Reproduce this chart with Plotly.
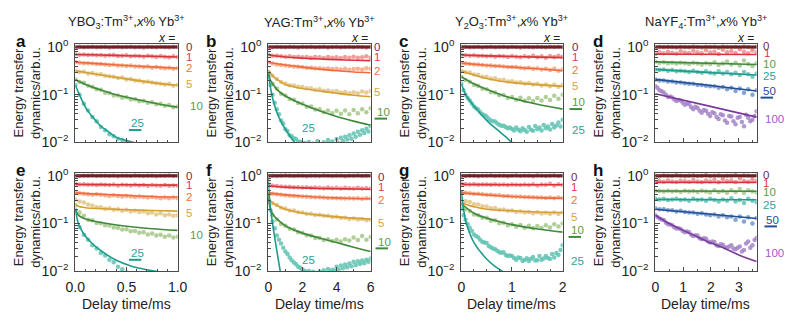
import numpy as np
import plotly.graph_objects as go

W, H = 792, 326

# ---------------------------------------------------------------
# Energy-transfer dynamics (normalised), sampled evenly in time.
# Each *_pts list is a measured trace, each *_fit pair a model curve.
# ---------------------------------------------------------------

# YBO3 (top row, fit model 1)
a_pts_0 = [1.0, 1.01, 0.99, 1.0, 1.02, 0.99, 1.0, 1.01, 0.98, 1.0, 1.01, 0.99, 1.0, 1.02, 0.99, 1.0, 0.98, 1.01, 1.0, 0.99, 1.01, 1.0, 0.99, 1.02, 1.0]
a_pts_1 = [0.71, 0.69, 0.70, 0.68, 0.69, 0.67, 0.68, 0.66, 0.67, 0.68, 0.65, 0.66, 0.67, 0.64, 0.66, 0.65, 0.63, 0.66, 0.64, 0.62, 0.65, 0.63, 0.61, 0.64, 0.62]
a_pts_2 = [0.48, 0.47, 0.46, 0.46, 0.45, 0.44, 0.44, 0.43, 0.42, 0.43, 0.41, 0.41, 0.40, 0.41, 0.39, 0.39, 0.38, 0.39, 0.37, 0.38, 0.37, 0.36, 0.37, 0.35, 0.36]
a_pts_5 = [0.32, 0.30, 0.305, 0.28, 0.285, 0.265, 0.27, 0.25, 0.245, 0.24, 0.225, 0.23, 0.21, 0.215, 0.20, 0.20, 0.185, 0.19, 0.18, 0.175, 0.17, 0.165, 0.17, 0.155, 0.16]
a_pts_10 = [0.21, 0.185, 0.178, 0.155, 0.148, 0.13, 0.128, 0.11, 0.109, 0.097, 0.097, 0.087, 0.089, 0.08, 0.081, 0.073, 0.075, 0.068, 0.07, 0.063, 0.065, 0.059, 0.061, 0.055, 0.057]
a_pts_25 = [0.16, 0.10, 0.065, 0.047, 0.034, 0.028, 0.021, 0.018, 0.0148, 0.0135, 0.012, 0.0112, 0.0104, 0.0097, 0.0092, 0.0087, 0.0082, 0.0078, 0.0074, 0.007, 0.0067, 0.0064, 0.0061, 0.0058, 0.0056]
a_fit_t = {"0": [0, 1], "1": [0, 0.25, 0.5, 0.75, 1], "2": [0, 0.25, 0.5, 0.75, 1],
           "5": [0, 0.25, 0.5, 0.75, 1], "10": [0, 0.1, 0.25, 0.4, 0.6, 0.8, 1],
           "25": [0, 0.05, 0.11, 0.18, 0.24, 0.32, 0.4, 0.5, 0.58, 0.7, 0.8]}
a_fit_v = {"0": [1.0, 1.0], "1": [0.70, 0.68, 0.66, 0.64, 0.62], "2": [0.48, 0.445, 0.41, 0.385, 0.36],
           "5": [0.32, 0.26, 0.215, 0.18, 0.158], "10": [0.21, 0.165, 0.126, 0.10, 0.08, 0.065, 0.055],
           "25": [0.16, 0.09, 0.05, 0.032, 0.023, 0.017, 0.0128, 0.011, 0.0098, 0.0085, 0.0078]}

# YAG
b_pts_0 = [1.0, 0.99, 1.01, 1.0, 0.99, 1.02, 1.0, 0.98, 1.01, 1.0, 1.02, 0.99, 1.0, 1.01, 0.98, 1.0, 1.02, 0.99, 1.0, 1.01, 0.99, 1.02, 1.0, 0.98, 1.01]
b_pts_1 = [0.70, 0.66, 0.66, 0.64, 0.63, 0.64, 0.62, 0.63, 0.61, 0.62, 0.60, 0.62, 0.61, 0.59, 0.62, 0.60, 0.61, 0.59, 0.62, 0.60, 0.63, 0.60, 0.61, 0.64, 0.60]
b_pts_2 = [0.48, 0.45, 0.43, 0.42, 0.41, 0.40, 0.39, 0.385, 0.38, 0.37, 0.37, 0.36, 0.36, 0.35, 0.355, 0.345, 0.35, 0.34, 0.35, 0.335, 0.345, 0.35, 0.34, 0.36, 0.35]
b_pts_5 = [0.30, 0.25, 0.215, 0.185, 0.172, 0.158, 0.157, 0.147, 0.146, 0.137, 0.137, 0.128, 0.131, 0.122, 0.123, 0.117, 0.12, 0.112, 0.115, 0.107, 0.113, 0.108, 0.117, 0.112, 0.12]
b_pts_10 = [0.26, 0.17, 0.135, 0.105, 0.096, 0.082, 0.079, 0.067, 0.066, 0.056, 0.057, 0.049, 0.05, 0.043, 0.047, 0.041, 0.046, 0.04, 0.047, 0.039, 0.048, 0.041, 0.05, 0.043, 0.052]
b_pts_25 = [0.25, 0.16, 0.10, 0.068, 0.05, 0.039, 0.029, 0.025, 0.019, 0.0175, 0.0142, 0.0135, 0.0122, 0.0118, 0.0105, 0.0102,
            0.0093, 0.0098, 0.0085, 0.0102, 0.0082, 0.0095, 0.0088, 0.0108, 0.0079, 0.0092, 0.0101, 0.0084, 0.0112, 0.0091,
            0.0105, 0.0088, 0.0118, 0.0096, 0.0125, 0.0108, 0.0132, 0.0115, 0.0142, 0.012, 0.0155, 0.0132, 0.0168, 0.0145,
            0.018, 0.0158, 0.0195, 0.017, 0.022]
b_fit_t = {"0": [0, 6], "1": [0, 1, 2, 3, 4, 5, 6], "2": [0, 1, 2, 3, 4, 5, 6],
           "5": [0, 0.25, 0.5, 1, 2, 3, 4, 5, 6], "10": [0, 0.1, 0.25, 0.5, 1, 2, 3, 4, 5, 6],
           "25": [0, 0.1, 0.25, 0.5, 0.75, 1, 1.25, 1.5, 1.75]}
b_fit_v = {"0": [1.0, 1.0], "1": [0.68, 0.62, 0.585, 0.56, 0.545, 0.53, 0.52],
           "2": [0.48, 0.42, 0.38, 0.345, 0.32, 0.30, 0.29],
           "5": [0.33, 0.25, 0.21, 0.165, 0.135, 0.12, 0.108, 0.098, 0.091],
           "10": [0.30, 0.21, 0.17, 0.13, 0.094, 0.063, 0.046, 0.035, 0.028, 0.023],
           "25": [0.27, 0.16, 0.085, 0.043, 0.027, 0.019, 0.0138, 0.0105, 0.008]}

# Y2O3
c_pts_0 = [1.0, 1.01, 0.99, 1.0, 1.01, 0.98, 1.0, 1.02, 0.99, 1.0, 1.01, 0.99, 1.02, 1.0, 0.98, 1.01, 1.0, 0.99, 1.02, 1.0, 0.99, 1.01, 1.0, 1.02, 0.99]
c_pts_1 = [0.69, 0.67, 0.66, 0.67, 0.65, 0.66, 0.64, 0.66, 0.63, 0.65, 0.64, 0.62, 0.65, 0.63, 0.61, 0.64, 0.62, 0.66, 0.61, 0.64, 0.60, 0.65, 0.62, 0.66, 0.63]
c_pts_2 = [0.46, 0.45, 0.44, 0.43, 0.43, 0.42, 0.41, 0.41, 0.40, 0.40, 0.39, 0.38, 0.38, 0.38, 0.37, 0.36, 0.37, 0.35, 0.36, 0.34, 0.35, 0.33, 0.35, 0.32, 0.34]
c_pts_5 = [0.32, 0.295, 0.292, 0.265, 0.262, 0.24, 0.238, 0.22, 0.222, 0.205, 0.207, 0.19, 0.193, 0.18, 0.183, 0.172, 0.176, 0.165, 0.17, 0.157, 0.164, 0.15, 0.162, 0.148, 0.16]
c_pts_10 = [0.24, 0.205, 0.188, 0.16, 0.153, 0.133, 0.131, 0.113, 0.112, 0.098, 0.099, 0.086, 0.09, 0.079, 0.087, 0.075, 0.085, 0.074, 0.086, 0.076, 0.09, 0.078, 0.095, 0.083, 0.1]
c_pts_25 = [0.17, 0.125, 0.10, 0.086, 0.076, 0.066, 0.057, 0.052, 0.049, 0.043, 0.039, 0.037, 0.035, 0.031, 0.029, 0.028,
            0.0275, 0.025, 0.0235, 0.0225, 0.0225, 0.021, 0.0198, 0.0205, 0.0192, 0.0178, 0.0205, 0.0185, 0.0172, 0.0198,
            0.0182, 0.0168, 0.021, 0.0185, 0.0176, 0.0222, 0.0189, 0.0205, 0.0178, 0.0232, 0.0198, 0.0215, 0.0188, 0.0245,
            0.0205, 0.0228, 0.0262, 0.0215, 0.030]
c_fit_t = {"0": [0, 2], "1": [0, 0.5, 1, 1.5, 2], "2": [0, 0.5, 1, 1.5, 2],
           "5": [0, 0.25, 0.5, 0.75, 1, 1.5, 2], "10": [0, 0.25, 0.5, 0.75, 1, 1.5, 2],
           "25": [0, 0.1, 0.25, 0.4, 0.5, 0.6, 0.75, 0.9, 1.0, 1.1]}
c_fit_v = {"0": [1.0, 1.0], "1": [0.68, 0.655, 0.635, 0.615, 0.60], "2": [0.46, 0.415, 0.38, 0.35, 0.32],
           "5": [0.32, 0.26, 0.22, 0.195, 0.18, 0.163, 0.15],
           "10": [0.24, 0.17, 0.13, 0.103, 0.085, 0.063, 0.05],
           "25": [0.17, 0.095, 0.058, 0.038, 0.029, 0.023, 0.017, 0.0125, 0.01, 0.0082]}

# NaYF4
d_pts_0 = [1.0, 1.02, 0.99, 1.01, 1.0, 0.98, 1.02, 1.0, 0.99, 1.03, 1.0, 0.98, 1.02, 1.0, 1.01, 0.97, 1.03, 1.0, 0.99, 1.02, 0.98, 1.03, 1.0, 0.97, 1.02]
d_pts_1 = [0.72, 0.78, 0.74, 0.80, 0.76, 0.73, 0.82, 0.77, 0.75, 0.84, 0.78, 0.74, 0.86, 0.77, 0.80, 0.72, 0.88, 0.78, 0.82, 0.75, 0.90, 0.80, 0.74, 0.85, 0.78]
d_pts_10 = [0.49, 0.47, 0.48, 0.46, 0.47, 0.45, 0.47, 0.46, 0.44, 0.47, 0.45, 0.43, 0.46, 0.44, 0.48, 0.42, 0.45, 0.50, 0.43, 0.47, 0.41, 0.52, 0.44, 0.40, 0.46]
d_pts_25 = [0.34, 0.33, 0.34, 0.32, 0.33, 0.31, 0.32, 0.31, 0.30, 0.32, 0.30, 0.29, 0.31, 0.29, 0.28, 0.31, 0.28, 0.30, 0.27, 0.29, 0.26, 0.30, 0.27, 0.24, 0.28]
d_pts_50 = [0.21, 0.20, 0.20, 0.19, 0.19, 0.18, 0.18, 0.175, 0.17, 0.17, 0.16, 0.16, 0.155, 0.15, 0.15, 0.14, 0.145, 0.13, 0.14, 0.12, 0.135, 0.11, 0.13, 0.10, 0.125]
d_pts_100 = [0.15, 0.14, 0.125, 0.118, 0.112, 0.10, 0.09, 0.092, 0.088, 0.08, 0.074, 0.078, 0.076, 0.068, 0.062, 0.066,
             0.063, 0.055, 0.05, 0.056, 0.053, 0.046, 0.042, 0.048, 0.046, 0.04, 0.036, 0.043, 0.041, 0.034, 0.031, 0.039,
             0.037, 0.029, 0.026, 0.036, 0.035, 0.028, 0.024, 0.033, 0.034, 0.027, 0.022, 0.038, 0.033, 0.028, 0.03, 0.036,
             0.045]
d_fit_t = {"0": [0, 3.64], "1": [0, 3.64], "10": [0, 3.64], "25": [0, 1.82, 3.64],
           "50": [0, 1.82, 3.64], "100": [0, 1.82, 3.64]}
d_fit_v = {"0": [1.0, 1.0], "1": [0.71, 0.70], "10": [0.49, 0.43], "25": [0.34, 0.295, 0.26],
           "50": [0.21, 0.16, 0.12], "100": [0.105, 0.06, 0.034]}

# YBO3 (bottom row, fit model 2)
e_pts_0 = [1.0, 0.99, 1.01, 1.0, 1.02, 0.99, 1.0, 1.01, 0.99, 1.0, 0.98, 1.01, 1.0, 0.99, 1.02, 1.0, 0.99, 1.01, 1.0, 0.98, 1.01, 1.0, 1.02, 0.99, 1.0]
e_pts_1 = [0.68, 0.66, 0.67, 0.65, 0.66, 0.64, 0.66, 0.65, 0.64, 0.66, 0.63, 0.65, 0.64, 0.63, 0.65, 0.63, 0.64, 0.62, 0.64, 0.63, 0.62, 0.64, 0.62, 0.63, 0.62]
e_pts_2 = [0.46, 0.43, 0.42, 0.41, 0.40, 0.41, 0.40, 0.39, 0.38, 0.39, 0.38, 0.37, 0.38, 0.37, 0.36, 0.37, 0.36, 0.35, 0.36, 0.35, 0.34, 0.35, 0.34, 0.35, 0.34]
e_pts_5 = [0.32, 0.29, 0.275, 0.25, 0.24, 0.22, 0.22, 0.205, 0.21, 0.195, 0.20, 0.185, 0.195, 0.18, 0.185, 0.175, 0.18, 0.165, 0.17, 0.155, 0.165, 0.15, 0.155, 0.145, 0.15]
e_pts_10 = [0.24, 0.17, 0.145, 0.12, 0.117, 0.103, 0.101, 0.092, 0.091, 0.083, 0.082, 0.075, 0.076, 0.069, 0.07, 0.064, 0.066, 0.059, 0.062, 0.056, 0.058, 0.053, 0.056, 0.051, 0.053]
e_pts_25 = [0.19, 0.085, 0.058, 0.046, 0.035, 0.03, 0.024, 0.0215, 0.0175, 0.0155, 0.0125, 0.011, 0.0094, 0.0085, 0.0076, 0.0068, 0.006, 0.0055, 0.005, 0.0045, 0.004, 0.0037, 0.0034, 0.003, 0.0028]
e_fit_t = {"0": [0, 1], "1": [0, 0.25, 0.5, 0.75, 1], "2": [0, 0.25, 0.5, 0.75, 1],
           "5": [0, 0.03, 0.1, 0.25, 0.5, 0.75, 1], "10": [0, 0.03, 0.1, 0.25, 0.5, 0.75, 1],
           "25": [0, 0.03, 0.08, 0.15, 0.25, 0.4, 0.55, 0.7, 0.8, 0.9]}
e_fit_v = {"0": [1.0, 1.0], "1": [0.66, 0.655, 0.65, 0.645, 0.64], "2": [0.44, 0.41, 0.39, 0.37, 0.36],
           "5": [0.26, 0.23, 0.215, 0.205, 0.195, 0.188, 0.182],
           "10": [0.20, 0.15, 0.125, 0.105, 0.088, 0.078, 0.072],
           "25": [0.20, 0.10, 0.062, 0.041, 0.027, 0.017, 0.0128, 0.0108, 0.0099, 0.0092]}

# YAG
f_pts_0 = [1.0, 1.01, 0.99, 1.0, 1.02, 1.0, 0.99, 1.01, 1.0, 0.98, 1.01, 1.0, 0.99, 1.02, 1.0, 0.99, 1.01, 1.0, 0.98, 1.01, 1.0, 1.02, 0.99, 1.0, 1.01]
f_pts_1 = [0.66, 0.62, 0.61, 0.60, 0.59, 0.59, 0.58, 0.58, 0.57, 0.58, 0.56, 0.57, 0.56, 0.55, 0.57, 0.55, 0.56, 0.54, 0.56, 0.55, 0.54, 0.56, 0.54, 0.55, 0.54]
f_pts_2 = [0.45, 0.42, 0.41, 0.40, 0.39, 0.385, 0.38, 0.375, 0.37, 0.365, 0.36, 0.355, 0.355, 0.35, 0.345, 0.345, 0.34, 0.34, 0.335, 0.34, 0.335, 0.34, 0.33, 0.34, 0.335]
f_pts_5 = [0.31, 0.265, 0.245, 0.215, 0.208, 0.188, 0.187, 0.172, 0.171, 0.16, 0.161, 0.152, 0.153, 0.145, 0.146, 0.137, 0.139, 0.131, 0.132, 0.125, 0.128, 0.121, 0.124, 0.117, 0.12]
f_pts_10 = [0.30, 0.15, 0.122, 0.098, 0.09, 0.078, 0.075, 0.066, 0.064, 0.057, 0.056, 0.05, 0.05, 0.045, 0.047, 0.043, 0.046, 0.042, 0.047, 0.044, 0.051, 0.045, 0.055, 0.046, 0.052]
f_pts_25 = [0.30, 0.19, 0.11, 0.08, 0.056, 0.046, 0.038, 0.031, 0.026, 0.023, 0.0195, 0.017, 0.0152, 0.014, 0.0125, 0.0118,
            0.0108, 0.0102, 0.0095, 0.0101, 0.0089, 0.0098, 0.0092, 0.0086, 0.0099, 0.0093, 0.0105, 0.0089, 0.0112, 0.0097,
            0.0108, 0.0102, 0.0125, 0.0108, 0.0132, 0.0115, 0.0138, 0.0122, 0.0145, 0.0128, 0.0158, 0.0135, 0.0162, 0.0142,
            0.0168, 0.0148, 0.0175, 0.0158, 0.0185]
f_fit_t = {"0": [0, 6], "1": [0, 1, 2, 3, 4, 5, 6], "2": [0, 1, 2, 3, 4, 5, 6],
           "5": [0, 0.25, 0.5, 1, 2, 3, 4, 5, 6], "10": [0, 0.05, 0.25, 0.5, 1, 2, 3, 4, 5, 6],
           "25": [0, 0.05, 0.12, 0.25, 0.4, 0.55, 0.7, 0.8]}
f_fit_v = {"0": [1.0, 1.0], "1": [0.62, 0.58, 0.56, 0.545, 0.535, 0.53, 0.525],
           "2": [0.44, 0.40, 0.375, 0.355, 0.345, 0.335, 0.33],
           "5": [0.33, 0.27, 0.24, 0.20, 0.167, 0.15, 0.138, 0.13, 0.124],
           "10": [0.40, 0.25, 0.16, 0.125, 0.09, 0.063, 0.05, 0.04, 0.032, 0.026],
           "25": [0.90, 0.45, 0.22, 0.10, 0.045, 0.021, 0.010, 0.0065]}

# Y2O3
g_pts_0 = [1.0, 0.99, 1.01, 1.0, 0.98, 1.01, 1.0, 1.02, 0.99, 1.0, 1.01, 0.98, 1.0, 1.02, 0.99, 1.01, 1.0, 0.98, 1.02, 1.0, 0.99, 1.01, 1.02, 0.99, 1.0]
g_pts_1 = [0.69, 0.67, 0.66, 0.67, 0.65, 0.66, 0.66, 0.65, 0.67, 0.65, 0.66, 0.64, 0.66, 0.65, 0.64, 0.66, 0.64, 0.67, 0.63, 0.66, 0.65, 0.68, 0.63, 0.67, 0.64]
g_pts_2 = [0.46, 0.44, 0.43, 0.42, 0.42, 0.41, 0.40, 0.40, 0.39, 0.39, 0.38, 0.38, 0.37, 0.37, 0.37, 0.36, 0.36, 0.355, 0.35, 0.35, 0.345, 0.35, 0.34, 0.35, 0.34]
g_pts_5 = [0.33, 0.295, 0.283, 0.255, 0.252, 0.23, 0.228, 0.21, 0.212, 0.195, 0.198, 0.185, 0.188, 0.175, 0.18, 0.17, 0.175, 0.165, 0.172, 0.162, 0.168, 0.16, 0.17, 0.158, 0.168]
g_pts_10 = [0.24, 0.20, 0.183, 0.155, 0.15, 0.132, 0.132, 0.115, 0.117, 0.102, 0.104, 0.092, 0.097, 0.086, 0.093, 0.082, 0.09, 0.08, 0.089, 0.081, 0.092, 0.083, 0.097, 0.087, 0.10]
g_pts_25 = [0.20, 0.15, 0.12, 0.098, 0.082, 0.07, 0.059, 0.055, 0.051, 0.045, 0.041, 0.04, 0.039, 0.034, 0.032, 0.03,
            0.029, 0.027, 0.025, 0.0245, 0.025, 0.022, 0.021, 0.0215, 0.021, 0.019, 0.0175, 0.0195, 0.019, 0.0165, 0.0172,
            0.0188, 0.0165, 0.0182, 0.02, 0.0168, 0.017, 0.021, 0.0175, 0.0185, 0.021, 0.019, 0.018, 0.023, 0.0195, 0.024,
            0.022, 0.028, 0.035]
g_fit_t = {"0": [0, 2], "1": [0, 0.5, 1, 1.5, 2], "2": [0, 0.5, 1, 1.5, 2],
           "5": [0, 0.05, 0.25, 0.5, 1, 1.5, 2], "10": [0, 0.25, 0.5, 0.75, 1, 1.5, 2],
           "25": [0, 0.03, 0.1, 0.25, 0.5, 0.65, 0.8, 0.9]}
g_fit_v = {"0": [1.0, 1.0], "1": [0.66, 0.655, 0.65, 0.65, 0.65], "2": [0.44, 0.40, 0.37, 0.35, 0.34],
           "5": [0.28, 0.26, 0.225, 0.20, 0.185, 0.175, 0.17],
           "10": [0.26, 0.165, 0.13, 0.11, 0.095, 0.077, 0.066],
           "25": [0.50, 0.25, 0.10, 0.04, 0.018, 0.013, 0.0102, 0.0088]}

# NaYF4
h_pts_0 = [1.0, 0.98, 1.02, 1.0, 0.99, 1.03, 1.0, 0.98, 1.01, 1.02, 0.99, 1.0, 1.03, 0.98, 1.0, 1.02, 0.97, 1.01, 1.0, 1.03, 0.98, 1.02, 1.0, 0.97, 1.02]
h_pts_1 = [0.74, 0.78, 0.75, 0.80, 0.76, 0.74, 0.79, 0.77, 0.75, 0.82, 0.76, 0.74, 0.80, 0.76, 0.83, 0.73, 0.85, 0.77, 0.80, 0.74, 0.88, 0.78, 0.75, 0.84, 0.78]
h_pts_10 = [0.49, 0.48, 0.47, 0.49, 0.47, 0.48, 0.46, 0.49, 0.47, 0.48, 0.46, 0.49, 0.47, 0.45, 0.50, 0.46, 0.48, 0.44, 0.50, 0.46, 0.53, 0.44, 0.50, 0.47, 0.45]
h_pts_25 = [0.33, 0.32, 0.33, 0.31, 0.32, 0.33, 0.31, 0.32, 0.30, 0.33, 0.31, 0.32, 0.30, 0.33, 0.31, 0.29, 0.32, 0.30, 0.34, 0.29, 0.31, 0.27, 0.33, 0.30, 0.28]
h_pts_50 = [0.21, 0.20, 0.20, 0.19, 0.19, 0.18, 0.185, 0.175, 0.17, 0.17, 0.16, 0.165, 0.155, 0.15, 0.155, 0.14, 0.15, 0.135, 0.14, 0.12, 0.14, 0.11, 0.135, 0.10, 0.13]
h_pts_100 = [0.15, 0.138, 0.128, 0.122, 0.118, 0.105, 0.097, 0.095, 0.092, 0.084, 0.079, 0.08, 0.077, 0.07, 0.066, 0.068,
             0.066, 0.058, 0.055, 0.057, 0.056, 0.049, 0.047, 0.049, 0.048, 0.042, 0.04, 0.042, 0.041, 0.035, 0.034, 0.037,
             0.036, 0.032, 0.031, 0.033, 0.035, 0.03, 0.029, 0.031, 0.033, 0.026, 0.028, 0.038, 0.042, 0.031, 0.035, 0.045,
             0.05]
h_fit_t = {"0": [0, 3.64], "1": [0, 3.64], "10": [0, 3.64], "25": [0, 3.64],
           "50": [0, 1.82, 3.64], "100": [0, 0.5, 1, 1.5, 2, 2.5, 3, 3.64]}
h_fit_v = {"0": [1.0, 1.0], "1": [0.73, 0.73], "10": [0.48, 0.475], "25": [0.32, 0.315],
           "50": [0.20, 0.16, 0.128], "100": [0.15, 0.10, 0.072, 0.053, 0.039, 0.03, 0.022, 0.016]}

# Tick labels
y_tick_vals = [0.01, 0.1, 1]
y_tick_text = ["10<sup>−2</sup>", "10<sup>−1</sup>", "10<sup>0</sup>"]
y_minor_vals = [k * 0.01 for k in range(2, 10)] + [k * 0.1 for k in range(2, 10)]

# ---------------------------------------------------------------
# Styling
# ---------------------------------------------------------------
LINE = {"0": "#6b2226", "1": "#d8343d", "2": "#ee6b40", "5": "#d3a035", "10": "#3f8a3c",
        "25": "#1f9c8c", "50": "#224f96", "100": "#7a3a9c"}
DOT = {"0": "#c98a8f", "1": "#ef8c8c", "2": "#f6a57f", "5": "#e4c383", "10": "#a5c687",
       "25": "#5fc3b3", "50": "#6e95cc", "100": "#a385c7"}
LABEL = {"0": "#7a1f4c", "1": "#e2384a", "2": "#f07241", "5": "#d8a436", "10": "#5c9c45",
         "25": "#2aa394", "50": "#22509a", "100": "#a05cc8"}
FONT = "Liberation Sans, Arial, Helvetica, sans-serif"
AX = "#4a4a4a"


def pxx(x):
    return x / W


def pxy(y):
    return 1 - y / H


TOP = (39, 142)
BOT = (174, 277)
COLS = [(67, 172), (265, 370), (463, 567), (662, 766)]

TITLES = ["YBO<sub>3</sub>:Tm<sup>3+</sup>,<i>x</i>% Yb<sup>3+</sup>",
          "YAG:Tm<sup>3+</sup>,<i>x</i>% Yb<sup>3+</sup>",
          "Y<sub>2</sub>O<sub>3</sub>:Tm<sup>3+</sup>,<i>x</i>% Yb<sup>3+</sup>",
          "NaYF<sub>4</sub>:Tm<sup>3+</sup>,<i>x</i>% Yb<sup>3+</sup>"]

X_TICKS = [([0, 0.5, 1], ["0.0", "0.5", "1.0"], 0.1, 1.0),
           ([0, 2, 4, 6], ["0", "2", "4", "6"], 1, 6.0),
           ([0, 1, 2], ["0", "1", "2"], 0.25, 2.0),
           ([0, 1, 2, 3], ["0", "1", "2", "3"], 0.5, 3.64)]

panels = [
    ("a", 0, 0, {"0": a_pts_0, "1": a_pts_1, "2": a_pts_2, "5": a_pts_5, "10": a_pts_10, "25": a_pts_25}, a_fit_t, a_fit_v,
     [("0", 178, 42), ("1", 178, 52), ("2", 178, 64), ("5", 178, 81), ("10", 183, 104), ("25", 122, 122, "u")]),
    ("b", 0, 1, {"0": b_pts_0, "1": b_pts_1, "2": b_pts_2, "5": b_pts_5, "10": b_pts_10, "25": b_pts_25}, b_fit_t, b_fit_v,
     [("0", 371, 42), ("1", 371, 52), ("2", 371, 67), ("5", 371, 89), ("10", 374, 110, "u"), ("25", 297, 127)]),
    ("c", 0, 2, {"0": c_pts_0, "1": c_pts_1, "2": c_pts_2, "5": c_pts_5, "10": c_pts_10, "25": c_pts_25}, c_fit_t, c_fit_v,
     [("0", 574, 42), ("1", 574, 52), ("2", 574, 66), ("5", 574, 83), ("10", 574, 100, "u"), ("25", 574, 129)]),
    ("d", 0, 3, {"0": d_pts_0, "1": d_pts_1, "10": d_pts_10, "25": d_pts_25, "50": d_pts_50, "100": d_pts_100}, d_fit_t, d_fit_v,
     [("0", 770, 41), ("1", 771, 48.5), ("10", 770, 60), ("25", 770, 72), ("50", 770, 88, "u"), ("100", 772, 117)]),
    ("e", 1, 0, {"0": e_pts_0, "1": e_pts_1, "2": e_pts_2, "5": e_pts_5, "10": e_pts_10, "25": e_pts_25}, e_fit_t, e_fit_v,
     [("0", 178, 177), ("1", 178, 187), ("2", 178, 199), ("5", 178, 216), ("10", 183, 239), ("25", 122, 258, "u")]),
    ("f", 1, 1, {"0": f_pts_0, "1": f_pts_1, "2": f_pts_2, "5": f_pts_5, "10": f_pts_10, "25": f_pts_25}, f_fit_t, f_fit_v,
     [("0", 375, 178), ("1", 375, 189), ("2", 375, 202), ("5", 375, 226), ("10", 375, 246, "u"), ("25", 297, 265)]),
    ("g", 1, 2, {"0": g_pts_0, "1": g_pts_1, "2": g_pts_2, "5": g_pts_5, "10": g_pts_10, "25": g_pts_25}, g_fit_t, g_fit_v,
     [("0", 573, 178), ("1", 573, 189), ("2", 573, 202), ("5", 573, 220), ("10", 573, 234, "u"), ("25", 573, 266)]),
    ("h", 1, 3, {"0": h_pts_0, "1": h_pts_1, "10": h_pts_10, "25": h_pts_25, "50": h_pts_50, "100": h_pts_100}, h_fit_t, h_fit_v,
     [("0", 770, 176), ("1", 770, 184.5), ("10", 770, 194), ("25", 770, 208), ("50", 774, 223, "u"), ("100", 772, 258)]),
]

fig = go.Figure()
layout = dict(width=W, height=H, margin=dict(l=0, r=0, t=0, b=0),
              paper_bgcolor="white", plot_bgcolor="white", showlegend=False,
              font=dict(family=FONT, size=13, color="#222"))
annotations = []
shapes = []

for i, (letter, row, col, pts, fit_t, fit_v, labels) in enumerate(panels):
    xn = "x" if i == 0 else f"x{i + 1}"
    yn = "y" if i == 0 else f"y{i + 1}"
    xkey = "xaxis" if i == 0 else f"xaxis{i + 1}"
    ykey = "yaxis" if i == 0 else f"yaxis{i + 1}"
    x0, x1 = COLS[col]
    ytop, ybot = TOP if row == 0 else BOT
    tv, tt, minor_dt, tmax = X_TICKS[col]

    layout[xkey] = dict(domain=[pxx(x0), pxx(x1)], range=[0, tmax], anchor=yn,
                        showline=True, mirror=True, linecolor=AX, linewidth=1.3,
                        ticks="inside", ticklen=4, tickcolor=AX, tickwidth=1,
                        tickvals=tv, ticktext=tt, showticklabels=(row == 1),
                        tickfont=dict(size=14, color="#222"), ticklabelstandoff=3,
                        minor=dict(ticks="inside", ticklen=2, dtick=minor_dt, tickcolor=AX),
                        showgrid=False, zeroline=False)
    layout[ykey] = dict(domain=[pxy(ybot), pxy(ytop)], type="log", range=[-2, 0.06], anchor=xn,
                        showline=True, mirror=True, linecolor=AX, linewidth=1.3,
                        ticks="inside", ticklen=5, tickcolor=AX, tickwidth=1,
                        tickvals=y_tick_vals, ticktext=y_tick_text,
                        tickfont=dict(size=14, color="#222"), ticklabelstandoff=3,
                        minor=dict(tickmode="array", tickvals=y_minor_vals, ticks="inside",
                                   ticklen=3, tickcolor=AX),
                        showgrid=False, zeroline=False)

    # measured traces
    for key, vals in pts.items():
        t = np.linspace(0, tmax, len(vals))
        fig.add_trace(go.Scatter(x=t, y=vals, xaxis=xn, yaxis=yn, mode="markers",
                                 marker=dict(size=4.5, color=DOT[key], opacity=0.85, line=dict(width=0)),
                                 hoverinfo="skip"))
    # model curves
    for key in pts:
        fig.add_trace(go.Scatter(x=fit_t[key], y=fit_v[key], xaxis=xn, yaxis=yn, mode="lines",
                                 line=dict(color=LINE[key], width=3 if key == "0" else 1.6,
                                           shape="spline", smoothing=0.9),
                                 hoverinfo="skip"))

    # labels per concentration
    for lab in labels:
        key, lx, ly = lab[0], lab[1], lab[2]
        annotations.append(dict(text=key, x=pxx(lx), y=pxy(ly), xref="paper", yref="paper",
                                xanchor="left", yanchor="middle", showarrow=False,
                                font=dict(size=11.5, color=LABEL[key])))
        if len(lab) > 3:
            wdt = 6.4 * len(key)
            shapes.append(dict(type="line", xref="paper", yref="paper",
                               x0=pxx(lx), x1=pxx(lx + wdt), y0=pxy(ly + 7), y1=pxy(ly + 7),
                               line=dict(color=LINE[key], width=2)))

    # panel letter
    annotations.append(dict(text=f"<b>{letter}</b>", x=pxx(x0 - 63 if col == 0 else x0 - 66),
                            y=pxy(ytop - 3), xref="paper", yref="paper", xanchor="left",
                            yanchor="middle", showarrow=False, font=dict(size=17, color="#111")))
    # y title
    annotations.append(dict(text="Energy transfer<br>dynamics/arb.u.", x=pxx(x0 - 49),
                            y=pxy((ytop + ybot) / 2), xref="paper", yref="paper", textangle=-90,
                            xanchor="center", yanchor="middle", showarrow=False,
                            font=dict(size=13, color="#222")))
    if row == 0:
        annotations.append(dict(text=TITLES[col], x=pxx((x0 + x1) / 2), y=pxy(16), xref="paper",
                                yref="paper", xanchor="center", yanchor="middle", showarrow=False,
                                font=dict(size=13, color="#222")))
        annotations.append(dict(text="<i>x</i> =", x=pxx(x1 - 1), y=pxy(32), xref="paper",
                                yref="paper", xanchor="right", yanchor="middle", showarrow=False,
                                font=dict(size=12, color="#222")))
    else:
        annotations.append(dict(text="Delay time/ms", x=pxx((x0 + x1) / 2), y=pxy(311), xref="paper",
                                yref="paper", xanchor="center", yanchor="middle", showarrow=False,
                                font=dict(size=14, color="#222")))

layout["annotations"] = annotations
layout["shapes"] = shapes
fig.update_layout(**layout)
fig.write_html("out.html")
